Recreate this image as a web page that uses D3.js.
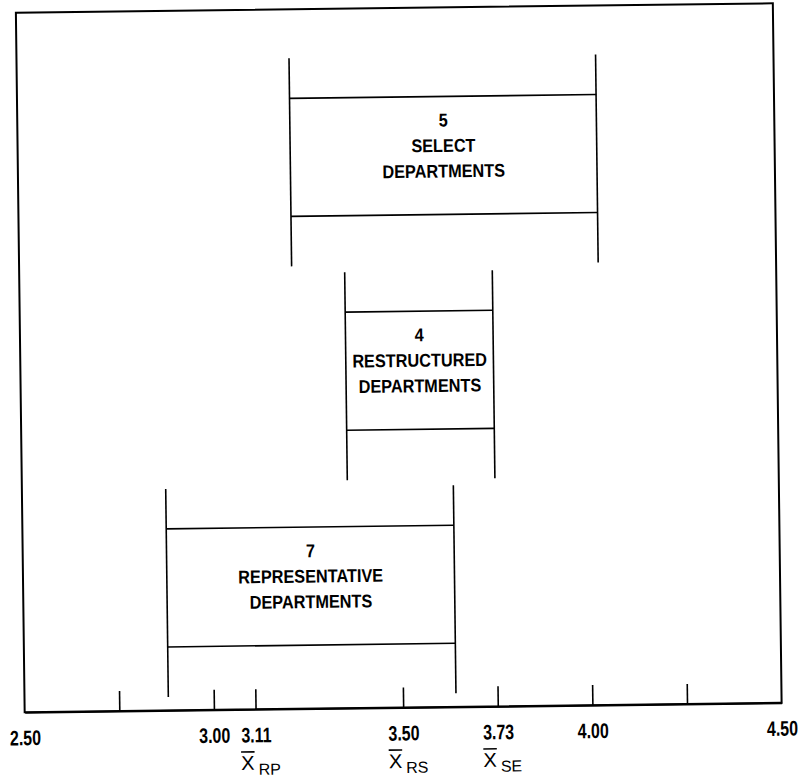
<!DOCTYPE html>
<html>
<head>
<meta charset="utf-8">
<script src="https://cdn.jsdelivr.net/npm/d3@7"></script>
<style>
  html, body { margin: 0; padding: 0; background: #fff; }
  svg { display: block; }
</style>
</head>
<body>
<svg id="chart" width="801" height="779"></svg>
<script>
// ---- data ----
const categories = ["SELECT", "RESTRUCTURED", "REPRESENTATIVE"];
const counts = ["5", "4", "7"];
const labelLines = [["SELECT", "DEPARTMENTS"], ["RESTRUCTURED", "DEPARTMENTS"], ["REPRESENTATIVE", "DEPARTMENTS"]];
const rangeLow = [3.22, 3.36, 2.88];
const rangeHigh = [4.03, 3.75, 3.64];
const tickMarks = [2.75, 3.00, 3.11, 3.50, 3.75, 4.00, 4.25];
const tickLabelPos = [2.50, 3.00, 3.11, 3.50, 3.75, 4.00, 4.50];
const tickLabelText = ["2.50", "3.00", "3.11", "3.50", "3.73", "4.00", "4.50"];
const meanPos = [3.11, 3.50, 3.75];
const meanSub = ["RP", "RS", "SE"];
const domainX = [2.50, 4.50];

// ---- layout ----
const frame = { left: 20.25, right: 777.25, top: 8, bottom: 707.5 };
const svg = d3.select("#chart");
const root = svg.append("g").attr("transform", "rotate(-0.72, 398.75, 357.7)");

const x = d3.scaleLinear().domain(domainX).range([frame.left, frame.right]);
const y = d3.scaleBand().domain(categories).range([57, 694]).paddingInner(0.03).paddingOuter(0);
const bw = y.bandwidth();
const boxTopOff = 40, boxBotOff = 50;

// frame
root.append("rect")
  .attr("x", frame.left).attr("y", frame.top)
  .attr("width", frame.right - frame.left).attr("height", frame.bottom - frame.top)
  .attr("fill", "none").attr("stroke", "#000").attr("stroke-width", 2);

// tick marks (pointing up into the plot)
const tickAxis = d3.axisBottom(x).tickValues(tickMarks).tickSizeInner(-20).tickSizeOuter(0).tickFormat("");
const gt = root.append("g").attr("transform", `translate(0,${frame.bottom})`).call(tickAxis);
gt.select(".domain").attr("stroke", "#000").attr("stroke-width", 2);
gt.selectAll(".tick line").attr("stroke", "#000").attr("stroke-width", 1.6);

// tick labels
const labelAxis = d3.axisBottom(x).tickValues(tickLabelPos).tickSize(0)
  .tickFormat((d, i) => tickLabelText[i]);
const gl = root.append("g").attr("transform", `translate(0,${frame.bottom})`).call(labelAxis);
gl.select(".domain").remove();
gl.selectAll(".tick text")
  .attr("y", 33).attr("dy", 0)
  .attr("fill", "#000")
  .attr("font-family", "'Liberation Sans', Arial, sans-serif")
  .attr("font-weight", "bold")
  .attr("font-size", 21)
  .attr("transform", "scale(0.76,1)");

// mean labels (X-bar with subscript)
const mg = root.selectAll("g.mean").data(meanPos).join("g")
  .attr("class", "mean")
  .attr("transform", d => `translate(${x(d)},0)`);
mg.append("line")
  .attr("x1", -15).attr("x2", -1.5).attr("y1", 750).attr("y2", 750)
  .attr("stroke", "#000").attr("stroke-width", 1.6);
const mt = mg.append("text")
  .attr("x", -15).attr("y", 768)
  .attr("font-family", "'Liberation Sans', Arial, sans-serif")
  .attr("font-size", 20).attr("fill", "#000");
mt.append("tspan").text("X");
mt.append("tspan").attr("dx", 4).attr("dy", 5).attr("font-size", 16)
  .text((d, i) => meanSub[i]);

// range bars
const rows = root.selectAll("g.row").data(categories).join("g").attr("class", "row");
rows.each(function (c, i) {
  const g = d3.select(this);
  const top = y(c), bot = y(c) + bw;
  const bt = top + boxTopOff, bb = bot - boxBotOff;
  const x0 = x(rangeLow[i]), x1 = x(rangeHigh[i]);
  [x0, x1].forEach(xx => g.append("line")
    .attr("x1", xx).attr("x2", xx).attr("y1", top).attr("y2", bot)
    .attr("stroke", "#000").attr("stroke-width", 1.6));
  [bt, bb].forEach(yy => g.append("line")
    .attr("x1", x0).attr("x2", x1).attr("y1", yy).attr("y2", yy)
    .attr("stroke", "#000").attr("stroke-width", 1.6));
  const cx = (x0 + x1) / 2;
  const lines = [counts[i]].concat(labelLines[i]);
  lines.forEach((t, k) => g.append("text")
    .attr("transform", `translate(${cx},${bt + 30 + k * 25.5}) scale(0.88,1)`)
    .attr("text-anchor", "middle")
    .attr("font-family", "'Liberation Sans', Arial, sans-serif")
    .attr("font-weight", "bold")
    .attr("font-size", 18.5)
    .attr("fill", "#000")
    .text(t));
});
</script>
</body>
</html>
